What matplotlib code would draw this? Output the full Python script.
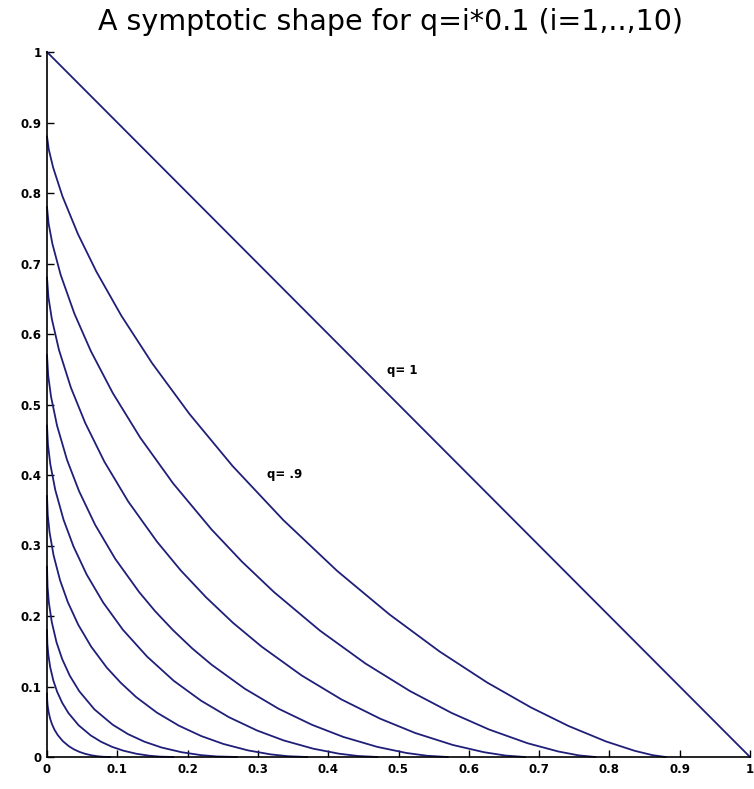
import matplotlib
matplotlib.use("Agg")
import matplotlib.pyplot as plt

# curve points (x, y in data units), one pair of lists per q
x_q01 = [0, 0.0003, 0.0009, 0.0023, 0.0045, 0.0072, 0.0108, 0.0153, 0.0225,
         0.0311, 0.0384, 0.0463, 0.0543, 0.0638, 0.0729, 0.0804, 0.09]
y_q01 = [0.09, 0.0804, 0.0729, 0.0638, 0.0543, 0.0463, 0.0384, 0.0311, 0.0225,
         0.0153, 0.0108, 0.0072, 0.0045, 0.0023, 0.0009, 0.0003, 0]

x_q02 = [0, 0.0005, 0.0018, 0.0045, 0.009, 0.0144, 0.0216, 0.0306, 0.045,
         0.0622, 0.0769, 0.0926, 0.1085, 0.1276, 0.1458, 0.1608, 0.18]
y_q02 = [0.18, 0.1608, 0.1458, 0.1276, 0.1085, 0.0926, 0.0769, 0.0622, 0.045,
         0.0306, 0.0216, 0.0144, 0.009, 0.0045, 0.0018, 0.0005, 0]

x_q03 = [0, 0.0008, 0.0027, 0.0068, 0.0135, 0.0216, 0.0324, 0.0459, 0.0675,
         0.0933, 0.1153, 0.1389, 0.1628, 0.1914, 0.2187, 0.2412, 0.27]
y_q03 = [0.27, 0.2412, 0.2187, 0.1914, 0.1628, 0.1389, 0.1153, 0.0933, 0.0675,
         0.0459, 0.0324, 0.0216, 0.0135, 0.0068, 0.0027, 0.0008, 0]

x_q04 = [0, 0.0011, 0.0037, 0.0093, 0.0185, 0.0296, 0.0444, 0.0629, 0.0851, 0.1051,
         0.1267, 0.1564, 0.1877, 0.2197, 0.2509, 0.2863, 0.3183, 0.3429, 0.37]
y_q04 = [0.37, 0.3429, 0.3183, 0.2863, 0.2509, 0.2197, 0.1877, 0.1564, 0.1267, 0.1051,
         0.0851, 0.0629, 0.0444, 0.0296, 0.0185, 0.0093, 0.0037, 0.0011, 0]

x_q05 = [0, 0.0014, 0.0047, 0.0118, 0.0235, 0.0376, 0.0564, 0.0799, 0.1081, 0.1424,
         0.1803, 0.2191, 0.2589, 0.2988, 0.3367, 0.3787, 0.4153, 0.4425, 0.47]
y_q05 = [0.47, 0.4425, 0.4153, 0.3787, 0.3367, 0.2988, 0.2589, 0.2191, 0.1803, 0.1424,
         0.1081, 0.0799, 0.0564, 0.0376, 0.0235, 0.0118, 0.0047, 0.0014, 0]

x_q06 = [0, 0.0017, 0.0057, 0.0143, 0.0285, 0.0456, 0.0684, 0.0969, 0.1311, 0.1539, 0.1796,
         0.2067, 0.2339, 0.2813, 0.3295, 0.3771, 0.4214, 0.47, 0.5113, 0.5411, 0.57]
y_q06 = [0.57, 0.5411, 0.5113, 0.47, 0.4214, 0.3771, 0.3295, 0.2813, 0.2339, 0.2067, 0.1796,
         0.1539, 0.1311, 0.0969, 0.0684, 0.0456, 0.0285, 0.0143, 0.0057, 0.0017, 0]

x_q07 = [0, 0.002, 0.0068, 0.017, 0.034, 0.0544, 0.0816, 0.1156, 0.1564, 0.1904, 0.2264,
         0.2645, 0.3055, 0.3623, 0.4189, 0.4738, 0.5239, 0.5775, 0.6216, 0.6525, 0.68]
y_q07 = [0.68, 0.6525, 0.6216, 0.5775, 0.5239, 0.4738, 0.4189, 0.3623, 0.3055, 0.2645, 0.2264,
         0.1904, 0.1564, 0.1156, 0.0816, 0.0544, 0.034, 0.017, 0.0068, 0.002, 0]

x_q08 = [0, 0.0023, 0.0078, 0.0195, 0.039, 0.0624, 0.0936, 0.1326, 0.1794, 0.234, 0.2772,
         0.3228, 0.3881, 0.453, 0.5162, 0.5757, 0.6288, 0.6837, 0.7274, 0.7564, 0.78]
y_q08 = [0.78, 0.7564, 0.7274, 0.6837, 0.6288, 0.5757, 0.5162, 0.453, 0.3881, 0.3228, 0.2772,
         0.234, 0.1794, 0.1326, 0.0936, 0.0624, 0.039, 0.0195, 0.0078, 0.0023, 0]

x_q09 = [0, 0.0026, 0.0088, 0.022, 0.044, 0.0704, 0.1056, 0.1496, 0.2024, 0.264, 0.3361,
         0.4127, 0.4869, 0.5585, 0.6262, 0.6882, 0.7418, 0.7953, 0.8359, 0.8614, 0.88]
y_q09 = [0.88, 0.8614, 0.8359, 0.7953, 0.7418, 0.6882, 0.6262, 0.5585, 0.4869, 0.4127, 0.3361,
         0.264, 0.2024, 0.1496, 0.1056, 0.0704, 0.044, 0.022, 0.0088, 0.0026, 0]

x_q10 = [0, 0.25, 0.5, 0.75, 1.0]
y_q10 = [1.0, 0.75, 0.5, 0.25, 0]

curves = [
    (x_q01, y_q01), (x_q02, y_q02), (x_q03, y_q03), (x_q04, y_q04), (x_q05, y_q05),
    (x_q06, y_q06), (x_q07, y_q07), (x_q08, y_q08), (x_q09, y_q09), (x_q10, y_q10),
]

tick_vals = [0, 0.1, 0.2, 0.3, 0.4, 0.5, 0.6, 0.7, 0.8, 0.9, 1]
tick_text = ["0", "0.1", "0.2", "0.3", "0.4", "0.5", "0.6", "0.7", "0.8", "0.9", "1"]

line_color = "#1f1f7a"

fig = plt.figure(figsize=(7.54, 7.89), dpi=100)
ax = fig.add_axes([47 / 754, 32 / 789, 703 / 754, 705 / 789])

for xs, ys in curves:
    ax.plot(xs, ys, color=line_color, lw=1.3, clip_on=False, solid_joinstyle="round")

ax.text(0.483, 0.548, "q= 1", fontsize=8.5, fontweight="bold", va="center")
ax.text(0.3125, 0.401, "q= .9", fontsize=8.5, fontweight="bold", va="center")

ax.set_xlim(0, 1)
ax.set_ylim(0, 1)
ax.set_xticks(tick_vals)
ax.set_xticklabels(tick_text)
ax.set_yticks(tick_vals)
ax.set_yticklabels(tick_text)
ax.tick_params(direction="in", length=5, width=1, labelsize=8.5, pad=4)
for lab in ax.get_xticklabels() + ax.get_yticklabels():
    lab.set_fontweight("bold")
ax.spines["top"].set_visible(False)
ax.spines["right"].set_visible(False)
ax.spines["left"].set_linewidth(1.2)
ax.spines["bottom"].set_linewidth(1.2)

fig.text(0.518, 0.972, "A symptotic shape for q=i*0.1 (i=1,..,10)",
         ha="center", va="center", fontsize=20.5, family="DejaVu Sans")

fig.savefig("out.png", dpi=100)
